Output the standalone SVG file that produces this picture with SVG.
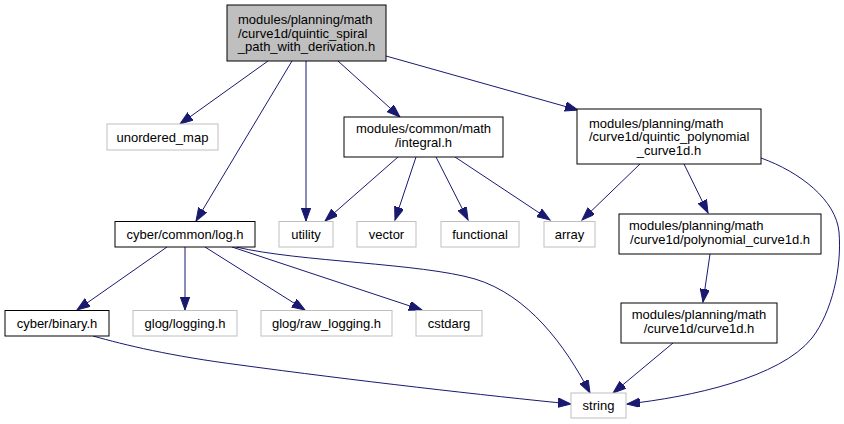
<svg xmlns="http://www.w3.org/2000/svg" width="844" height="424" viewBox="0 0 844 424">
<style>
text{font-family:"Liberation Sans",Arial,sans-serif;font-size:13px;fill:#000}
.m{text-anchor:middle}
.b{fill:#fff;stroke:#000;stroke-width:1}
.g{fill:#fff;stroke:#bfbfbf;stroke-width:1}
.r{fill:#bfbfbf;stroke:#000;stroke-width:1}
.e{fill:none;stroke:#191970;stroke-width:1}
</style>
<defs>
<marker id="a" markerUnits="userSpaceOnUse" markerWidth="14" markerHeight="10" refX="13" refY="4.7" orient="auto">
<path d="M0,0 L13,4.7 L0,9.4 z" fill="#191970" stroke="#191970" stroke-width="1"/>
</marker>
</defs>
<rect width="844" height="424" fill="#fff"/>
<g id="edges">
<path class="e" marker-end="url(#a)" d="M268,61 L180,124"/>
<path class="e" marker-end="url(#a)" d="M292,61 L196,221"/>
<path class="e" marker-end="url(#a)" d="M306,61 L306,221"/>
<path class="e" marker-end="url(#a)" d="M338,61 L400,117"/>
<path class="e" marker-end="url(#a)" d="M386,56 L578,110"/>
<path class="e" marker-end="url(#a)" d="M398,157 L325,221"/>
<path class="e" marker-end="url(#a)" d="M416,157 L395,220"/>
<path class="e" marker-end="url(#a)" d="M436,157 L468,220"/>
<path class="e" marker-end="url(#a)" d="M455,157 L550,220"/>
<path class="e" marker-end="url(#a)" d="M640,164 L582,220"/>
<path class="e" marker-end="url(#a)" d="M684,164 L708,213"/>
<path class="e" marker-end="url(#a)" d="M761,158 C800,172 836,200 839,232 C842,268 832,312 812,338 C780,378 690,397 627,404"/>
<path class="e" marker-end="url(#a)" d="M710,254 L703,302"/>
<path class="e" marker-end="url(#a)" d="M673,343 L613,393"/>
<path class="e" marker-end="url(#a)" d="M167,247 L77,310"/>
<path class="e" marker-end="url(#a)" d="M185,247 L185,310"/>
<path class="e" marker-end="url(#a)" d="M205,247 L305,310"/>
<path class="e" marker-end="url(#a)" d="M232,247 L422,310"/>
<path class="e" marker-end="url(#a)" d="M236,247 C300,262 420,263 475,279 C528,295 565,345 590,393"/>
<path class="e" marker-end="url(#a)" d="M93,336 C125,345 170,356 240,365 C350,380 490,396 571,404"/>
</g>
<g id="root">
<rect class="r" x="227" y="5" width="159" height="56"/>
<text x="238" y="24.2">modules/planning/math</text>
<text x="238" y="37.5">/curve1d/quintic_spiral</text>
<text class="m" x="306.5" y="50.8">_path_with_derivation.h</text>
</g>
<g id="unordered_map">
<rect class="g" x="107" y="124" width="111" height="26"/>
<text class="m" x="162.5" y="141.5">unordered_map</text>
</g>
<g id="log">
<rect class="b" x="115" y="221.5" width="140" height="25.5"/>
<text class="m" x="185" y="238.5">cyber/common/log.h</text>
</g>
<g id="utility">
<rect class="g" x="279" y="221.5" width="54" height="25.5"/>
<text class="m" x="306" y="238.5">utility</text>
</g>
<g id="integral">
<rect class="b" x="344" y="117" width="159" height="40"/>
<text class="m" x="423.5" y="133">modules/common/math</text>
<text class="m" x="423.5" y="147">/integral.h</text>
</g>
<g id="vector">
<rect class="g" x="357" y="221.5" width="59" height="25.5"/>
<text class="m" x="386.5" y="238.5">vector</text>
</g>
<g id="functional">
<rect class="g" x="441" y="221.5" width="78" height="25.5"/>
<text class="m" x="480" y="238.5">functional</text>
</g>
<g id="array">
<rect class="g" x="544" y="221.5" width="51" height="25.5"/>
<text class="m" x="569.5" y="238.5">array</text>
</g>
<g id="quintic_polynomial">
<rect class="b" x="577" y="109" width="184" height="55"/>
<text x="589" y="127.5">modules/planning/math</text>
<text x="589" y="141">/curve1d/quintic_polynomial</text>
<text class="m" x="669" y="154.5">_curve1d.h</text>
</g>
<g id="polynomial_curve1d">
<rect class="b" x="619" y="214" width="202" height="40"/>
<text x="629" y="230">modules/planning/math</text>
<text class="m" x="720" y="244">/curve1d/polynomial_curve1d.h</text>
</g>
<g id="curve1d">
<rect class="b" x="621" y="303" width="156" height="40"/>
<text class="m" x="699" y="319">modules/planning/math</text>
<text class="m" x="699" y="333">/curve1d/curve1d.h</text>
</g>
<g id="binary">
<rect class="b" x="5" y="310.5" width="104" height="25.5"/>
<text class="m" x="57" y="327.5">cyber/binary.h</text>
</g>
<g id="logging">
<rect class="g" x="133" y="310.5" width="104" height="25.5"/>
<text class="m" x="185" y="327.5">glog/logging.h</text>
</g>
<g id="raw_logging">
<rect class="g" x="261" y="310.5" width="131" height="25.5"/>
<text class="m" x="326.5" y="327.5">glog/raw_logging.h</text>
</g>
<g id="cstdarg">
<rect class="g" x="416" y="310.5" width="66" height="25.5"/>
<text class="m" x="449" y="327.5">cstdarg</text>
</g>
<g id="string">
<rect class="g" x="571" y="393" width="55" height="25"/>
<text class="m" x="598.5" y="410">string</text>
</g>
</svg>
